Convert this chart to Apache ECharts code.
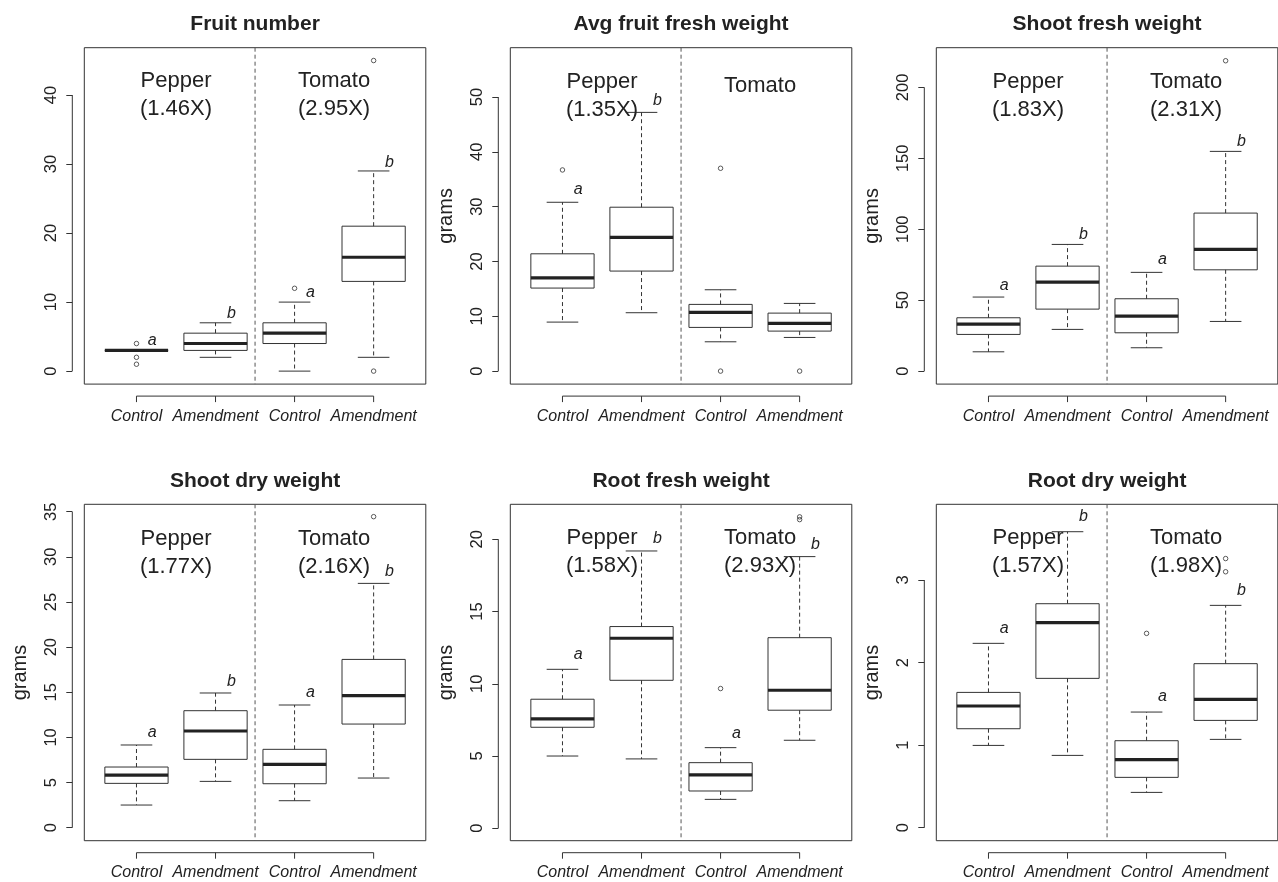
<!DOCTYPE html>
<html><head><meta charset="utf-8">
<script src="https://cdn.jsdelivr.net/npm/echarts@6/dist/echarts.min.js"></script>
<style>html,body{margin:0;padding:0;background:#fff}#c{width:1278px;height:882px}</style>
</head><body><div id="c"></div>
<script>
// ---------------- data ----------------
const categories = ['Control', 'Amendment', 'Control', 'Amendment'];
const titles = ['Fruit number', 'Avg fruit fresh weight', 'Shoot fresh weight',
                'Shoot dry weight', 'Root fresh weight', 'Root dry weight'];
const yAxisNames = ['', 'grams', 'grams', 'grams', 'grams', 'grams'];

// boxes: [lower whisker, Q1, median, Q3, upper whisker] per category
// outliers: [category index (1-4), value]
const fruitNumberBoxes = [[3, 3, 3, 3, 3], [2, 3, 4, 5.5, 7], [0, 4, 5.5, 7, 10], [2, 13, 16.5, 21, 29]];
const fruitNumberOutliers = [[1, 4], [1, 2], [1, 1], [3, 12], [4, 0], [4, 45]];
const fruitNumberLetters = ['a', 'b', 'a', 'b'];
const fruitNumberLetterY = [4.4, 8.3, 11.35, 30.2];
const fruitNumberGroupText = ['Pepper\n(1.46X)', 'Tomato\n(2.95X)'];
const fruitNumberGroupY = [40, 40];
const fruitNumberTicks = [0, 10, 20, 30, 40];
const fruitNumberRange = [-1.88, 46.86];

const avgFruitBoxes = [[8.94, 15.15, 17.0, 21.4, 30.8], [10.65, 18.25, 24.4, 29.9, 47.2],
                       [5.35, 7.97, 10.7, 12.17, 14.84], [6.14, 7.3, 8.7, 10.58, 12.35]];
const avgFruitOutliers = [[1, 36.7], [3, 37.0], [3, 0], [4, 0]];
const avgFruitLetters = ['a', 'b', '', ''];
const avgFruitLetterY = [33.15, 49.45, 0, 0];
const avgFruitGroupText = ['Pepper\n(1.35X)', 'Tomato'];
const avgFruitGroupY = [50.2, 52.0];
const avgFruitTicks = [0, 10, 20, 30, 40, 50];
const avgFruitRange = [-2.37, 59.0];

const shootFreshBoxes = [[13.6, 25.85, 33.1, 37.6, 52.2], [29.4, 43.7, 62.75, 74.0, 89.3],
                         [16.45, 27.0, 38.8, 51.0, 69.6], [35.0, 71.4, 85.8, 111.4, 154.9]];
const shootFreshOutliers = [[4, 218.8]];
const shootFreshLetters = ['a', 'b', 'a', 'b'];
const shootFreshLetterY = [60.6, 96.4, 78.3, 161.9];
const shootFreshGroupText = ['Pepper\n(1.83X)', 'Tomato\n(2.31X)'];
const shootFreshGroupY = [194, 194];
const shootFreshTicks = [0, 50, 100, 150, 200];
const shootFreshRange = [-9.17, 228];

const shootDryBoxes = [[2.51, 4.91, 5.83, 6.72, 9.16], [5.13, 7.57, 10.71, 12.96, 14.92],
                       [2.99, 4.87, 7.01, 8.68, 13.59], [5.5, 11.48, 14.62, 18.64, 27.06]];
const shootDryOutliers = [[4, 34.45]];
const shootDryLetters = ['a', 'b', 'a', 'b'];
const shootDryLetterY = [10.56, 16.24, 14.99, 28.35];
const shootDryGroupText = ['Pepper\n(1.77X)', 'Tomato\n(2.16X)'];
const shootDryGroupY = [30.4, 30.4];
const shootDryTicks = [0, 5, 10, 15, 20, 25, 30, 35];
const shootDryRange = [-1.44, 35.82];

const rootFreshBoxes = [[5.0, 6.99, 7.57, 8.93, 11.0], [4.8, 10.24, 13.15, 13.96, 19.19],
                        [2.0, 2.58, 3.69, 4.54, 5.58], [6.09, 8.17, 9.55, 13.19, 18.8]];
const rootFreshOutliers = [[3, 9.67], [4, 21.55], [4, 21.36]];
const rootFreshLetters = ['a', 'b', 'a', 'b'];
const rootFreshLetterY = [12.04, 20.07, 6.57, 19.65];
const rootFreshGroupText = ['Pepper\n(1.58X)', 'Tomato\n(2.93X)'];
const rootFreshGroupY = [19.1, 19.1];
const rootFreshTicks = [0, 5, 10, 15, 20];
const rootFreshRange = [-0.86, 22.42];

const rootDryBoxes = [[0.997, 1.199, 1.474, 1.639, 2.233], [0.876, 1.809, 2.483, 2.713, 3.585],
                      [0.428, 0.61, 0.824, 1.054, 1.401], [1.07, 1.30, 1.554, 1.987, 2.693]];
const rootDryOutliers = [[3, 2.354], [4, 3.26], [4, 3.10]];
const rootDryLetters = ['a', 'b', 'a', 'b'];
const rootDryLetterY = [2.414, 3.767, 1.587, 2.867];
const rootDryGroupText = ['Pepper\n(1.57X)', 'Tomato\n(1.98X)'];
const rootDryGroupY = [3.34, 3.34];
const rootDryTicks = [0, 1, 2, 3];
const rootDryRange = [-0.157, 3.917];

// ---------------- layout / style ----------------
const FONT = '"Liberation Sans", Arial, Helvetica, sans-serif';
const LINE = '#333';
const TEXT = '#222';
const X_MIN = 0.34, X_MAX = 4.66;
const AXIS_OFFSET = 12;
const TICK_LEN = 6;
const GRID_LEFTS = [84.3, 510.3, 936.3];
const GRID_TOPS = [47.7, 504.3];
const GRID_W = 341.5, GRID_H = 336.4;

const panels = [
  [fruitNumberBoxes, fruitNumberOutliers, fruitNumberLetters, fruitNumberLetterY, fruitNumberGroupText, fruitNumberGroupY, fruitNumberTicks, fruitNumberRange],
  [avgFruitBoxes, avgFruitOutliers, avgFruitLetters, avgFruitLetterY, avgFruitGroupText, avgFruitGroupY, avgFruitTicks, avgFruitRange],
  [shootFreshBoxes, shootFreshOutliers, shootFreshLetters, shootFreshLetterY, shootFreshGroupText, shootFreshGroupY, shootFreshTicks, shootFreshRange],
  [shootDryBoxes, shootDryOutliers, shootDryLetters, shootDryLetterY, shootDryGroupText, shootDryGroupY, shootDryTicks, shootDryRange],
  [rootFreshBoxes, rootFreshOutliers, rootFreshLetters, rootFreshLetterY, rootFreshGroupText, rootFreshGroupY, rootFreshTicks, rootFreshRange],
  [rootDryBoxes, rootDryOutliers, rootDryLetters, rootDryLetterY, rootDryGroupText, rootDryGroupY, rootDryTicks, rootDryRange]
];

function boxRender(params, api) {
  const x = api.value(0);
  const lo = api.value(1), q1 = api.value(2), med = api.value(3), q3 = api.value(4), hi = api.value(5);
  const xl = api.coord([x - 0.4, q3])[0], xr = api.coord([x + 0.4, q3])[0];
  const cl = api.coord([x - 0.2, q3])[0], cr = api.coord([x + 0.2, q3])[0];
  const xc = api.coord([x, q3])[0];
  const yq3 = api.coord([x, q3])[1], yq1 = api.coord([x, q1])[1];
  const ymed = api.coord([x, med])[1], yhi = api.coord([x, hi])[1], ylo = api.coord([x, lo])[1];
  const dash = { stroke: LINE, lineWidth: 1, lineDash: [4, 3] };
  const solid = { stroke: LINE, lineWidth: 1 };
  return { type: 'group', children: [
    { type: 'line', shape: { x1: xc, y1: yq3, x2: xc, y2: yhi }, style: dash },
    { type: 'line', shape: { x1: xc, y1: yq1, x2: xc, y2: ylo }, style: dash },
    { type: 'line', shape: { x1: cl, y1: yhi, x2: cr, y2: yhi }, style: solid },
    { type: 'line', shape: { x1: cl, y1: ylo, x2: cr, y2: ylo }, style: solid },
    { type: 'rect', shape: { x: xl, y: yq3, width: xr - xl, height: yq1 - yq3 }, style: { fill: 'none', stroke: LINE, lineWidth: 1 } },
    { type: 'line', shape: { x1: xl, y1: ymed, x2: xr, y2: ymed }, style: { stroke: '#222', lineWidth: 3.2 } }
  ]};
}

function textRender(texts, style) {
  return function (params, api) {
    const p = api.coord([api.value(0), api.value(1)]);
    return { type: 'text', x: p[0], y: p[1], style: Object.assign({ text: texts[params.dataIndex] }, style) };
  };
}

// R-style axis lines (first to last tick), x ticks and the dashed group divider
function decorRender(ticks, range) {
  return function (params, api) {
    const yb = api.coord([X_MIN, range[0]])[1], yt = api.coord([X_MIN, range[1]])[1];
    const xl = api.coord([X_MIN, 0])[0];
    const xDiv = api.coord([2.5, 0])[0];
    const yT0 = api.coord([X_MIN, ticks[0]])[1], yT1 = api.coord([X_MIN, ticks[ticks.length - 1]])[1];
    const xC1 = api.coord([1, 0])[0], xC4 = api.coord([4, 0])[0];
    const solid = { stroke: LINE, lineWidth: 1 };
    const children = [
      { type: 'line', shape: { x1: xDiv, y1: yt, x2: xDiv, y2: yb }, style: { stroke: '#555', lineWidth: 1, lineDash: [4, 3] } },
      { type: 'line', shape: { x1: xl - AXIS_OFFSET, y1: yT0, x2: xl - AXIS_OFFSET, y2: yT1 }, style: solid },
      { type: 'line', shape: { x1: xC1, y1: yb + AXIS_OFFSET, x2: xC4, y2: yb + AXIS_OFFSET }, style: solid }
    ];
    [1, 2, 3, 4].forEach(function (c) {
      const xc = api.coord([c, 0])[0];
      children.push({ type: 'line', shape: { x1: xc, y1: yb + AXIS_OFFSET, x2: xc, y2: yb + AXIS_OFFSET + TICK_LEN }, style: solid });
    });
    return { type: 'group', children: children };
  };
}

const grid = [], xAxis = [], yAxis = [], series = [], title = [];
panels.forEach(function (pd, i) {
  const [boxes, outliers, letters, letterY, groupText, groupY, ticks, range] = pd;
  const left = GRID_LEFTS[i % 3], top = GRID_TOPS[Math.floor(i / 3)];
  grid.push({ left: left, top: top, width: GRID_W, height: GRID_H, show: true, borderColor: LINE, borderWidth: 1, backgroundColor: 'transparent' });
  title.push({ text: titles[i], left: left + GRID_W / 2, top: top - 34, textAlign: 'center', padding: 0,
               textStyle: { fontSize: 21, fontWeight: 'bold', color: TEXT, fontFamily: FONT } });
  xAxis.push({
    gridIndex: i, type: 'value', min: X_MIN, max: X_MAX, offset: AXIS_OFFSET,
    axisLine: { show: false }, splitLine: { show: false },
    axisTick: { show: false },
    axisLabel: { customValues: [1, 2, 3, 4], formatter: function (v) { return categories[Math.round(v) - 1]; },
                 fontStyle: 'italic', fontSize: 16, color: TEXT, fontFamily: FONT, margin: 12 }
  });
  yAxis.push({
    gridIndex: i, type: 'value', min: range[0], max: range[1], offset: AXIS_OFFSET,
    axisLine: { show: false }, splitLine: { show: false },
    axisTick: { show: true, length: TICK_LEN, customValues: ticks, lineStyle: { color: LINE } },
    axisLabel: { customValues: ticks, rotate: 90, fontSize: 16.5, color: TEXT, fontFamily: FONT, margin: 12 },
    name: yAxisNames[i], nameLocation: 'middle', nameRotate: 90, nameGap: 42,
    nameTextStyle: { fontSize: 20, color: TEXT, fontFamily: FONT }
  });
  series.push({
    type: 'custom', xAxisIndex: i, yAxisIndex: i, silent: true, z: 1,
    data: [[1, 0]], renderItem: decorRender(ticks, range)
  });
  series.push({
    type: 'custom', xAxisIndex: i, yAxisIndex: i, silent: true, z: 2,
    encode: { x: 0, y: [1, 2, 3, 4, 5] },
    data: boxes.map(function (b, k) { return [k + 1].concat(b); }),
    renderItem: boxRender
  });
  series.push({
    type: 'scatter', xAxisIndex: i, yAxisIndex: i, silent: true, z: 3,
    symbol: 'circle', symbolSize: 4.5,
    itemStyle: { color: 'transparent', borderColor: LINE, borderWidth: 1 },
    data: outliers
  });
  const letterIdx = letters.map(function (l, k) { return k; }).filter(function (k) { return letters[k] !== ''; });
  series.push({
    type: 'custom', xAxisIndex: i, yAxisIndex: i, silent: true, z: 4,
    data: letterIdx.map(function (k) { return [k + 1 + 0.2, letterY[k]]; }),
    renderItem: textRender(letterIdx.map(function (k) { return letters[k]; }),
      { fill: TEXT, fontSize: 16, fontStyle: 'italic', fontFamily: FONT, align: 'center', verticalAlign: 'middle' })
  });
  series.push({
    type: 'custom', xAxisIndex: i, yAxisIndex: i, silent: true, z: 4,
    data: [[1.5, groupY[0]], [3.5, groupY[1]]],
    renderItem: textRender(groupText,
      { fill: TEXT, fontSize: 22, lineHeight: 28, fontFamily: FONT, align: 'center', verticalAlign: 'middle' })
  });
});

const chart = echarts.init(document.getElementById('c'), null, { renderer: 'canvas' });
chart.setOption({ animation: false, backgroundColor: '#fff', title: title, grid: grid, xAxis: xAxis, yAxis: yAxis, series: series });
</script>
</body></html>
